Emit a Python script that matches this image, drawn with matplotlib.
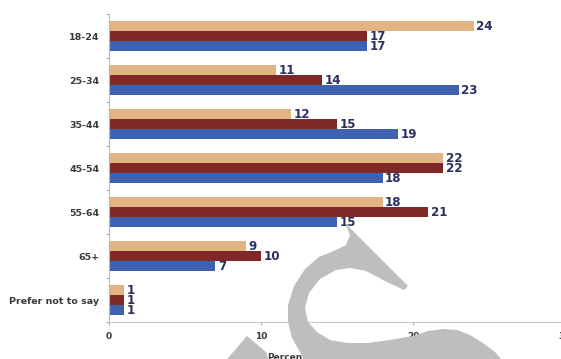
import matplotlib.pyplot as plt
import numpy as np
from matplotlib.patches import Polygon

# age bands and the three series (percent)
categories = ["18-24", "25-34", "35-44", "45-54", "55-64", "65+", "Prefer not to say"]
series_tan = [24, 11, 12, 22, 18, 9, 1]
series_red = [17, 14, 15, 22, 21, 10, 1]
series_blue = [17, 23, 19, 18, 15, 7, 1]
x_ticks = [0, 10, 20, 30]

W, H = 561, 359
fig = plt.figure(figsize=(W / 100, H / 100), dpi=100)
ax = fig.add_axes([109 / W, 1 - 322 / H, (565 - 109) / W, (322 - 14) / H])

y = np.arange(len(categories))
h = 10 / 44
colors = ["#e2b483", "#7e2828", "#3e62b0"]
label_color = "#2a2f5e"

for off, vals, col in [(-h, series_tan, colors[0]),
                       (0, series_red, colors[1]),
                       (h, series_blue, colors[2])]:
    ax.barh(y + off, vals, height=h, color=col, zorder=2)
    for yi, v in zip(y + off, vals):
        ax.text(v + 0.17, yi, str(v), va="center", ha="left",
                fontsize=8.6, fontweight="bold", color=label_color)

ax.set_xlim(0, 30)
ax.set_ylim(len(categories) - 0.5, -0.5)

ax.set_yticks(y)
ax.set_yticklabels(categories)
ax.set_yticks(np.arange(-0.5, len(categories) + 0.5, 1), minor=True)
ax.tick_params(axis="y", which="major", length=0, pad=7, labelsize=6.8,
               labelcolor="#3a3a3a")
ax.tick_params(axis="y", which="minor", length=2.2, width=0.8, color="#b0b0b0")
for lbl in ax.get_yticklabels():
    lbl.set_fontweight("bold")

ax.set_xticks(x_ticks)
ax.tick_params(axis="x", length=2, width=0.8, color="#b0b0b0", pad=5,
               labelsize=6.5, labelcolor="#3a3a3a")
for lbl in ax.get_xticklabels():
    lbl.set_fontweight("bold")
    lbl.set_clip_on(False)

ax.set_xlabel("Percent", fontsize=6.5, fontweight="bold", color="#3a3a3a")
ax.xaxis.set_label_coords(0.39, -0.1)

for s in ["top", "right"]:
    ax.spines[s].set_visible(False)
ax.spines["left"].set_color("#b8b8b8")
ax.spines["bottom"].set_color("#c8c8c8")

# grey logo stroke over the lower part of the figure (pixel outline, y from top)
s_outline = [
    # pointed top and the upper arm
    (345, 223), (360, 238), (380, 258), (397, 275), (408, 286),
    (404, 290), (385, 281), (366, 271), (350, 268),
    # inner edge of the curve
    (336, 270), (320, 279), (309, 293), (305, 308), (308, 322), (317, 332),
    (330, 340), (347, 343), (367, 343), (390, 340), (413, 336), (428, 331),
    (443, 329), (457, 330), (470, 335), (483, 343), (495, 352), (502, 360),
    (506, 375), (312, 375),
    # outer edge back up to the tip
    (300, 352), (292, 338), (288, 322), (288, 305), (294, 286), (305, 269),
    (319, 257), (336, 250), (346, 245), (350, 235),
]
wedge = [(247, 336), (266, 352), (270, 365), (222, 365)]
for pts in (s_outline, wedge):
    pts = np.array(pts, dtype=float)
    xy = np.column_stack([pts[:, 0] / W, 1 - pts[:, 1] / H])
    fig.add_artist(Polygon(xy, closed=True, transform=fig.transFigure,
                           facecolor="#bebebe", edgecolor="none", zorder=10))

fig.savefig("out.png", dpi=100)
